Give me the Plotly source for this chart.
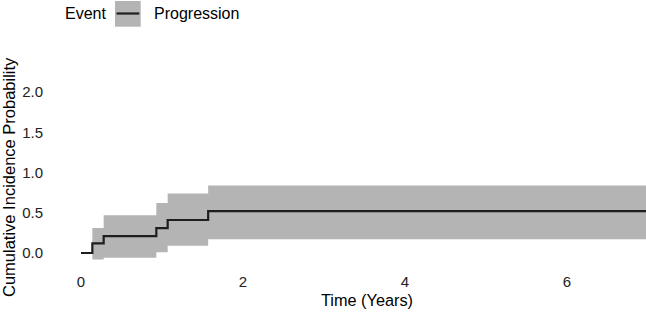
import plotly.graph_objects as go

# Data
times = [0.0, 0.14, 0.28, 0.93, 1.07, 1.57, 7.0]
cif = [0.0, 0.12, 0.21, 0.31, 0.41, 0.52, 0.52]
upper = [0.0, 0.31, 0.47, 0.62, 0.74, 0.84, 0.84]
lower = [0.0, -0.08, -0.06, 0.01, 0.09, 0.17, 0.17]
x_ticks = [0, 2, 4, 6]
y_ticks = [0.0, 0.5, 1.0, 1.5, 2.0]
y_tick_labels = ["0.0", "0.5", "1.0", "1.5", "2.0"]
event_label = "Progression"

W, H = 646, 314
L, R, T, B = 51, 646, 70, 271  # panel pixel edges
FONT = "Liberation Sans, Arial, Helvetica, sans-serif"
BAND = "#b4b4b4"
LINE = "#1e1e1e"

def px(xp):
    return (xp - L) / (R - L)

def py(yp):
    return (B - yp) / (B - T)

fig = go.Figure()
fig.add_trace(go.Scatter(x=times, y=lower, mode="lines", line=dict(width=0, shape="hv"),
                         hoverinfo="skip", showlegend=False))
fig.add_trace(go.Scatter(x=times, y=upper, mode="lines", line=dict(width=0, shape="hv"),
                         fill="tonexty", fillcolor=BAND, hoverinfo="skip", showlegend=False))
fig.add_trace(go.Scatter(x=times, y=cif, mode="lines", name=event_label,
                         line=dict(color=LINE, width=2.2, shape="hv"), showlegend=False))

# manual legend
fig.add_shape(type="rect", xref="paper", yref="paper",
              x0=px(115), x1=px(140.7), y0=py(26.7), y1=py(1.0),
              fillcolor=BAND, line=dict(width=0))
fig.add_shape(type="line", xref="paper", yref="paper",
              x0=px(116.5), x1=px(139.3), y0=py(13.5), y1=py(13.5),
              line=dict(color=LINE, width=2.2))
fig.add_annotation(text="Event", xref="paper", yref="paper", x=px(62.5), y=py(13.5),
                   xanchor="left", yanchor="middle", showarrow=False,
                   font=dict(family=FONT, size=16, color="#000"))
fig.add_annotation(text=event_label, xref="paper", yref="paper", x=px(151.5), y=py(13.5),
                   xanchor="left", yanchor="middle", showarrow=False,
                   font=dict(family=FONT, size=16, color="#000"))

# axis titles
fig.add_annotation(text="Time (Years)", xref="paper", yref="paper", x=px(367), y=py(300),
                   xanchor="center", yanchor="middle", showarrow=False,
                   font=dict(family=FONT, size=16.3, color="#000"))
fig.add_annotation(text="Cumulative Incidence Probability", xref="paper", yref="paper",
                   x=px(9), y=py(177), textangle=-90, xanchor="center", yanchor="middle",
                   showarrow=False, font=dict(family=FONT, size=16.5, color="#000"))

fig.update_layout(
    width=W, height=H,
    margin=dict(l=L, r=W - R, t=T, b=H - B, pad=0),
    plot_bgcolor="white", paper_bgcolor="white",
    showlegend=False,
    font=dict(family=FONT, color="#222"),
)
fig.update_xaxes(range=[(L - 81) / 81.0, (R - 81) / 81.0], tickvals=x_ticks,
                 ticktext=[str(v) for v in x_ticks], showgrid=False, zeroline=False,
                 showline=False, ticks="", tickfont=dict(family=FONT, size=15, color="#222"))
fig.update_yaxes(range=[-(B - 253) / 80.5, (253 - T) / 80.5], tickvals=y_ticks,
                 ticktext=y_tick_labels, showgrid=False, zeroline=False,
                 showline=False, ticks="", ticklabelstandoff=7,
                 tickfont=dict(family=FONT, size=15, color="#222"))

fig.write_html("out.html")
